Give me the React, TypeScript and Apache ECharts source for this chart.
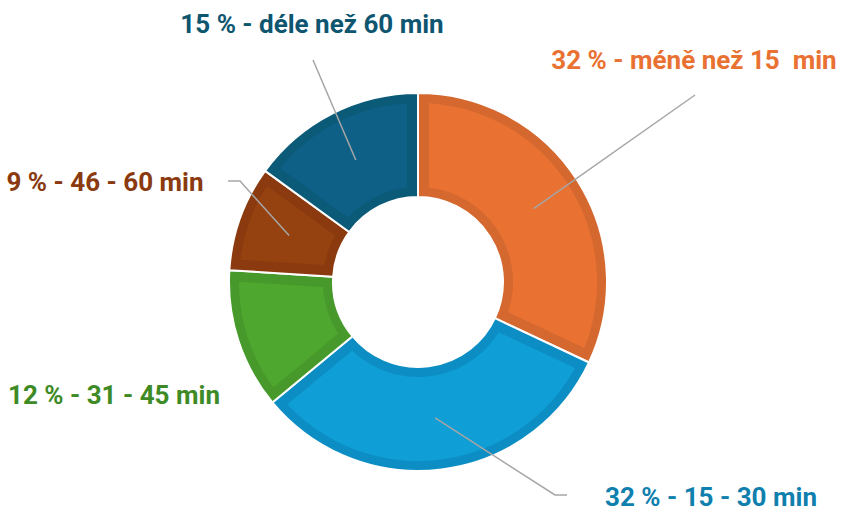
import React, { useEffect, useRef } from "react";
import * as echarts from "echarts";

const ranges = ["méně než 15  min", "15 - 30 min", "31 - 45 min", "46 - 60 min", "déle než 60 min"];
const values = [32, 32, 12, 9, 15];
const mainColors = ["#E97132", "#0F9ED5", "#4EA72E", "#964210", "#0E6086"];
const bandColors = ["#D4682F", "#0C8DC4", "#47992B", "#8A3A0E", "#0B5A78"];
const labelColors = ["#E97132", "#0F7FAE", "#3E8A25", "#8A3A0E", "#0E5670"];

// layout (not data)
const CX = 418;
const CY = 282;
const R_IN = 85;
const R_OUT = 189;
const BAND = 10;
const labelPos: [number, number][] = [
  [694, 60],
  [711, 497],
  [114, 395],
  [105, 182],
  [312, 24],
];
const leaderBends: ([number, number][] | null)[] = [
  [[695, 95]],
  [[555, 495], [567, 495]],
  null,
  [[240, 181], [228, 181]],
  [[313, 60]],
];

export default function App() {
  const ref = useRef<HTMLDivElement>(null);
  useEffect(() => {
    if (!ref.current) return;
    const chart = echarts.init(ref.current, undefined, { renderer: "svg" });
    const total = values.reduce((a, b) => a + b, 0);
    const starts: number[] = [];
    let acc = -Math.PI / 2;
    values.forEach((v) => {
      starts.push(acc);
      acc += (v / total) * Math.PI * 2;
    });

    const renderItem = (params: any, api: any) => {
      const i = params.dataIndex;
      const v = api.value(0);
      const a0 = starts[i];
      const a1 = a0 + (v / total) * Math.PI * 2;
      const d = BAND + 1;
      const Ro = R_OUT - BAND;
      const Ri = R_IN + BAND;
      const pts: number[][] = [];
      const N = 60;
      const o0 = a0 + Math.asin(d / Ro);
      const o1 = a1 - Math.asin(d / Ro);
      for (let k = 0; k <= N; k++) {
        const a = o0 + ((o1 - o0) * k) / N;
        pts.push([CX + Ro * Math.cos(a), CY + Ro * Math.sin(a)]);
      }
      const i0 = a0 + Math.asin(d / Ri);
      const i1 = a1 - Math.asin(d / Ri);
      for (let k = 0; k <= N; k++) {
        const a = i1 + ((i0 - i1) * k) / N;
        pts.push([CX + Ri * Math.cos(a), CY + Ri * Math.sin(a)]);
      }
      const children: any[] = [
        {
          type: "polygon",
          shape: { points: pts },
          style: { fill: mainColors[i] },
        },
      ];
      const bend = leaderBends[i];
      if (bend) {
        const am = (a0 + a1) / 2;
        const rm = (R_IN + R_OUT) / 2;
        const line = [[CX + rm * Math.cos(am), CY + rm * Math.sin(am)], ...bend];
        children.push({
          type: "polyline",
          shape: { points: line },
          style: { stroke: "#A6A6A6", lineWidth: 1.5, fill: null },
        });
      }
      return { type: "group", children };
    };

    chart.setOption({
      animation: false,
      backgroundColor: "#ffffff",
      series: [
        {
          type: "pie",
          center: [CX, CY],
          radius: [R_IN, R_OUT],
          startAngle: 90,
          clockwise: true,
          avoidLabelOverlap: false,
          silent: true,
          itemStyle: { borderColor: "#ffffff", borderWidth: 2 },
          label: {
            show: true,
            position: "outside",
            fontFamily: "Roboto",
            fontWeight: "bold",
            fontSize: 26,
            formatter: (p: any) => `${p.value} % - ${ranges[p.dataIndex]}`,
          },
          labelLine: { show: false },
          labelLayout: (p: any) => ({
            x: labelPos[p.dataIndex][0],
            y: labelPos[p.dataIndex][1],
            align: "center",
            verticalAlign: "middle",
          }),
          data: values.map((v, i) => ({
            value: v,
            name: ranges[i],
            itemStyle: { color: bandColors[i] },
            label: { color: labelColors[i] },
          })),
        },
        {
          type: "custom",
          coordinateSystem: "none",
          silent: true,
          z: 3,
          renderItem,
          data: values.map((v) => [v]),
        },
      ],
    });
    return () => chart.dispose();
  }, []);
  return (
    <div
      ref={ref}
      style={{ position: "absolute", left: 0, top: 0, width: 842, height: 511 }}
    />
  );
}
